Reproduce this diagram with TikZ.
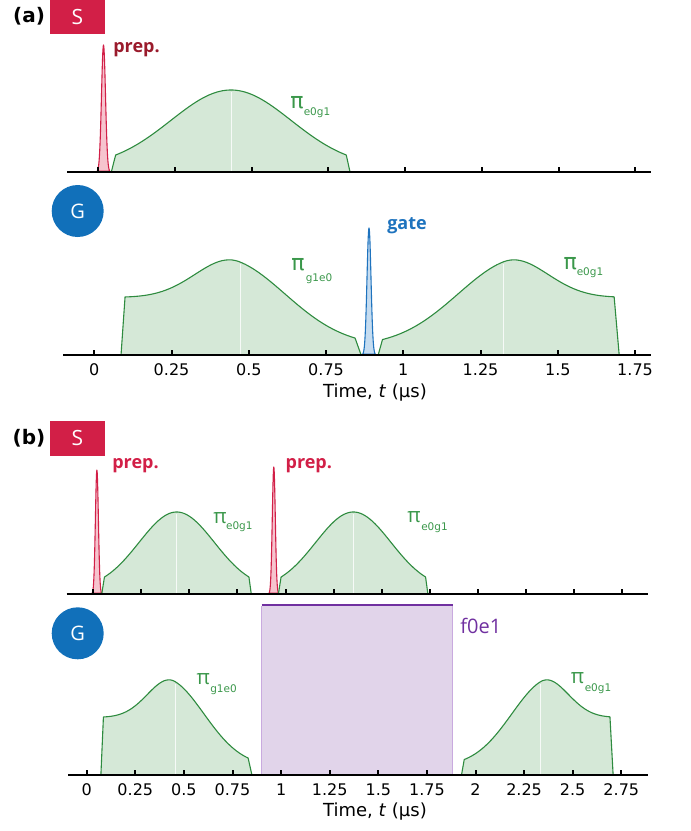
\documentclass[tikz,border=0pt]{standalone}
\usepackage{fontspec}
\setmainfont{Open Sans}
\newfontfamily\dvs{DejaVu Sans}
\definecolor{crim}{HTML}{D21F47}
\definecolor{prepdark}{HTML}{9A1B2C}
\definecolor{gblue}{HTML}{1170BA}
\definecolor{gateblue}{HTML}{1E73BE}
\definecolor{gatefill}{HTML}{C5DCF0}
\definecolor{pgreen}{HTML}{2E8B3F}
\definecolor{lgreen}{HTML}{3A974A}
\definecolor{pfill}{HTML}{D5E8D7}
\definecolor{pinkfill}{HTML}{F6C4CE}
\definecolor{purp}{HTML}{7030A0}
\definecolor{purpfill}{HTML}{E1D4EA}
\definecolor{purpside}{HTML}{C9AADF}
\newcommand\SymPulse[4]{%
  \filldraw[pulse] ({#1+(#4-0.39)*#2},#3) -- plot[domain=-0.376:0.376,samples=70] ({#1+(#4+\x)*#2},{#3-symh(\x)}) -- ({#1+(#4+0.388)*#2},#3) -- cycle;
  \draw[peakline] ({#1+#4*#2},#3-1.5) -- ({#1+#4*#2},{#3-symh(0)+1.5});
}
\newcommand\GEPulse[4]{%
  \filldraw[pulse] ({#1+(#4-0.385)*#2},#3) -- plot[domain=-0.372:0.373,samples=70] ({#1+(#4+\x)*#2},{#3-asymh(\x)}) -- ({#1+(#4+0.392)*#2},#3) -- cycle;
  \draw[peakline] ({#1+#4*#2},#3-1.5) -- ({#1+#4*#2},{#3-asymh(0)+1.5});
}
\newcommand\EGPulse[4]{%
  \filldraw[pulse] ({#1+(#4-0.404)*#2},#3) -- plot[domain=-0.39:0.36,samples=70] ({#1+(#4+\x)*#2},{#3-asymh(-\x)}) -- ({#1+(#4+0.376)*#2},#3) -- cycle;
  \draw[peakline] ({#1+#4*#2},#3-1.5) -- ({#1+#4*#2},{#3-asymh(0)+1.5});
}
% #1 centre x, #2 base y, #3 height, #4 sigma, #5 style
\newcommand\Spike[5]{%
  \filldraw[#5] plot[domain={-3.2*#4}:{3.2*#4},samples=41] ({#1+\x},{#2-#3*exp(-(\x*\x)/(2*#4*#4))}) -- cycle;
}
\begin{document}
\begin{tikzpicture}[x=1pt,y=-1pt,
  declare function={
    symh(\d)=4.7+77.3*exp(-((\d)*(\d))/(2*0.196*0.196));
    thh(\z)=(1-exp(-2*(\z)))/(1+exp(-2*(\z)));
    asymh(\d)=33.5+24.7*thh((0-(\d))/0.2)+59.5*ifthenelse((\d)<0, exp(-((\d)*(\d))/0.0338), exp(-((\d)*(\d))/0.0648));
  },
  pulse/.style={draw=pgreen, fill=pfill, line width=1.1pt, line join=round},
  peakline/.style={draw=white, line width=0.7pt, opacity=0.8},
  prepspike/.style={draw=crim, fill=pinkfill, line width=1.1pt, line join=round},
  gatespike/.style={draw=gateblue, fill=gatefill, line width=1.1pt, line join=round},
  axisline/.style={draw=black, line width=2.3pt},
  tickmark/.style={draw=black, line width=2pt},
  ticklab/.style={font=\dvs\fontsize{16}{16}\selectfont, inner sep=0pt},
  axlab/.style={font=\dvs\fontsize{18}{18}\selectfont, inner sep=0pt},
  panellab/.style={font=\dvs\bfseries\fontsize{20}{20}\selectfont, inner sep=0pt},
  sbox/.style={fill=crim, text=white, minimum width=55pt, minimum height=34.5pt, inner sep=0pt, font=\fontsize{21}{21}\selectfont},
  gcirc/.style={circle, fill=gblue, text=white, minimum size=52pt, inner sep=0pt, font=\fontsize{20}{20}\selectfont},
  plab/.style={font=\bfseries\fontsize{18}{18}\selectfont, inner sep=0pt},
  piA/.style={text=lgreen, font=\dvs\fontsize{22}{22}\selectfont, inner sep=0pt},
  piB/.style={text=lgreen, font=\fontsize{20.5}{20.5}\selectfont, inner sep=0pt},
  subl/.style={text=lgreen, font=\dvs\fontsize{10.5}{10.5}\selectfont, inner sep=0pt}
]
\useasboundingbox (0,0) rectangle (691,831);

% ================= panel (a) =================
\node[panellab] (la) at (29,16) {(a)};
\node[sbox] (sa) at (77.5,17.2) {S};
% top: S
\Spike{103.5}{172}{127}{2}{prepspike}
\SymPulse{98.3}{306.8}{172}{0.4325}
\draw[axisline] (67,172) -- (651,172);
\foreach \tv in {0,0.25,...,1.75} \draw[tickmark] ({98.3+\tv*306.8},171) -- ++(0,-4.5);
\node[plab, text=prepdark] (prepa) at (136.5,50) {prep.};
\node[piA] (pia1) at (297,102.5) {π};
\node[subl] (sa1) at (317,112.7) {e0g1};
% bottom: G
\node[gcirc] (ga) at (77.7,211) {G};
\GEPulse{94.3}{309}{355}{0.4715}
\EGPulse{94.3}{309}{355}{1.3227}
\Spike{369}{355}{127}{2}{gatespike}
\draw[axisline] (63,355) -- (651,355);
\foreach \tv in {0,0.25,0.5,0.75,1,1.25,1.5,1.75} {
  \draw[tickmark] ({94.3+\tv*309},354) -- ++(0,-4.5);
  \node[ticklab] at ({94.3+\tv*309},370) {\tv};
}
\node[axlab] (ta) at (375,393) {Time, \textit{t} (μs)};
\node[plab, text=gateblue] (gatel) at (407,226) {gate};
\node[piA] (pia2) at (298,265) {π};
\node[subl] (sa2) at (319,278.3) {g1e0};
\node[piA] (pia3) at (570.3,264) {π};
\node[subl] (sa3) at (590,272.7) {e0g1};

% ================= panel (b) =================
\node[panellab] (lb) at (29,438) {(b)};
\node[sbox] (sb) at (77.5,438.3) {S};
% top: S
\Spike{96.9}{594}{124}{1.5}{prepspike}
\Spike{273.8}{594}{127}{1.5}{prepspike}
\SymPulse{93.3}{192.2}{594}{0.434}
\SymPulse{93.3}{192.2}{594}{1.353}
\draw[axisline] (66.7,594) -- (648,594);
\foreach \tv in {0,0.25,...,2.75} \draw[tickmark] ({93.3+\tv*192.2},593) -- ++(0,-4.5);
\node[plab, text=crim] (prepb1) at (135.5,465.5) {prep.};
\node[plab, text=crim] (prepb2) at (308.8,465.5) {prep.};
\node[piB] (pib1) at (220,518) {π};
\node[subl] (sb1) at (239.3,526.7) {e0g1};
\node[piB] (pib2) at (414,517.3) {π};
\node[subl] (sb2) at (434.5,527.3) {e0g1};
% bottom: G
\node[gcirc] (gb) at (77.7,633.3) {G};
\GEPulse{86.7}{194.4}{775}{0.458}
\EGPulse{86.7}{194.4}{775}{2.332}
\fill[purpfill] (261.7,605) rectangle (452.7,775);
\draw[purpside, line width=0.8pt] (261.7,775) -- (261.7,605.5) (452.7,605.5) -- (452.7,775);
\draw[purp, line width=1.6pt] (261.7,605) -- (452.7,605);
\draw[axisline] (68.3,775) -- (648,775);
\foreach \tv in {0,0.25,0.5,0.75,1,1.25,1.5,1.75,2,2.25,2.5,2.75} {
  \draw[tickmark] ({86.7+\tv*194.4},774) -- ++(0,-4.5);
  \node[ticklab] at ({86.7+\tv*194.4},790) {\tv};
}
\node[axlab] (tb) at (375,811.7) {Time, \textit{t} (μs)};
\node[font=\fontsize{20}{20}\selectfont, text=purp, inner sep=0pt] (fe) at (480.8,625.5) {f0e1};
\node[piB] (pib3) at (203.2,678.7) {π};
\node[subl] (sb3) at (223.5,689.5) {g1e0};
\node[piB] (pib4) at (577.5,678.5) {π};
\node[subl] (sb4) at (598,688.3) {e0g1};
\end{tikzpicture}
\end{document}
